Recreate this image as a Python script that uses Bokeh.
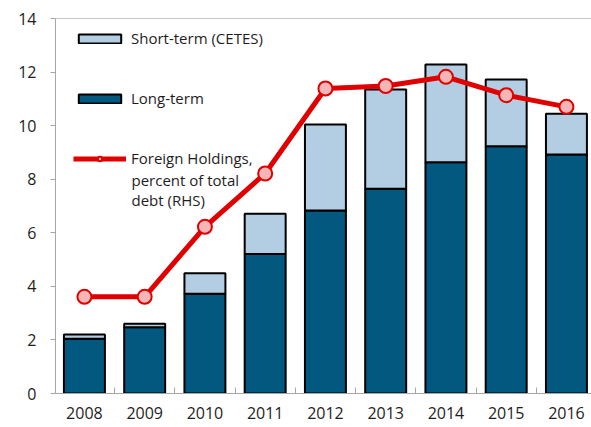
from bokeh.plotting import figure
from bokeh.models import (ColumnDataSource, Range1d, LinearAxis, FixedTicker,
                          Legend, LegendItem, Label)
from bokeh.embed import file_html
from bokeh.resources import INLINE

years = ["2008", "2009", "2010", "2011", "2012", "2013", "2014", "2015", "2016"]
long_term = [2.04, 2.47, 3.72, 5.21, 6.83, 7.64, 8.63, 9.23, 8.92]
short_term = [0.16, 0.13, 0.77, 1.50, 3.21, 3.71, 3.65, 2.49, 1.52]
foreign_pct = [11.6, 11.6, 20.0, 26.4, 36.6, 36.9, 38.0, 35.8, 34.4]
y_ticks = [0, 2, 4, 6, 8, 10, 12, 14]
rhs_ticks = [0, 5, 10, 15, 20, 25, 30, 35, 40, 45]

xs = list(range(len(years)))
src = ColumnDataSource(dict(x=xs, long=long_term, short=short_term, pct=foreign_pct))

FONT = "Open Sans"
DARK = "#02587F"
LIGHT = "#B3CDE3"
RED = "#E00000"
TXT = "#1E1E1E"

p = figure(width=591, height=427, output_backend="svg", toolbar_location=None,
           x_range=Range1d(-0.48, 8.416), y_range=Range1d(0, 14),
           min_border_left=55, min_border_top=18, min_border_right=0,
           min_border_bottom=34)
p.extra_y_ranges = {"rhs": Range1d(rhs_ticks[0], rhs_ticks[-1])}
p.outline_line_color = None
p.xgrid.visible = False
p.ygrid.visible = False
p.background_fill_color = "white"
p.border_fill_color = "white"

bars = p.vbar_stack(["long", "short"], x="x", width=0.68, source=src,
                    fill_color=[DARK, LIGHT], line_color="black", line_width=2)

ln = p.line("x", "pct", source=src, y_range_name="rhs", line_color=RED, line_width=5)
mk = p.scatter("x", "pct", source=src, y_range_name="rhs", size=14,
               fill_color="#F4B6B6", line_color=RED, line_width=2)

# axes
ya = p.yaxis[0]
ya.ticker = FixedTicker(ticks=y_ticks)
ya.axis_line_color = "#A6A6A6"
ya.major_tick_line_color = "#A6A6A6"
ya.major_tick_out = 5
ya.major_tick_in = 0
ya.minor_tick_line_color = None
ya.major_label_standoff = 14
ya.major_label_text_font = FONT
ya.major_label_text_font_size = "16px"
ya.major_label_text_color = TXT

xa = p.xaxis[0]
xa.ticker = FixedTicker(ticks=xs, minor_ticks=[i - 0.5 for i in range(len(years) + 1)])
xa.major_label_overrides = {i: y for i, y in enumerate(years)}
xa.axis_line_color = "#A6A6A6"
xa.major_tick_line_color = None
xa.major_tick_out = 0
xa.major_tick_in = 0
xa.minor_tick_line_color = "#A6A6A6"
xa.minor_tick_in = 6
xa.minor_tick_out = 0
xa.major_label_standoff = 13
xa.major_label_text_font = FONT
xa.major_label_text_font_size = "16px"
xa.major_label_text_color = TXT

top = LinearAxis(axis_line_color="#C8C8C8", major_tick_line_color=None,
                 minor_tick_line_color=None, major_label_text_font_size="0px",
                 major_label_text_alpha=0)
p.add_layout(top, "above")

legend = Legend(items=[
    LegendItem(label="Short-term (CETES)", renderers=[bars[1]]),
    LegendItem(label="Long-term", renderers=[bars[0]]),
    LegendItem(label="Foreign Holdings,", renderers=[ln, mk]),
], location=(18, 225), border_line_color=None, background_fill_alpha=0,
    glyph_width=53, glyph_height=11, label_text_font=FONT,
    label_text_font_size="15px", label_text_color=TXT, label_height=20,
    spacing=40, margin=0, padding=0, label_standoff=5)
p.add_layout(legend)

cont = Label(x=76, y=224, x_units="screen", y_units="screen",
             text="percent of total\ndebt (RHS)", text_font=FONT,
             text_font_size="15px", text_color=TXT, text_baseline="top",
             text_line_height=1.0)
p.add_layout(cont)

open("out.html", "w").write(file_html(p, INLINE))
